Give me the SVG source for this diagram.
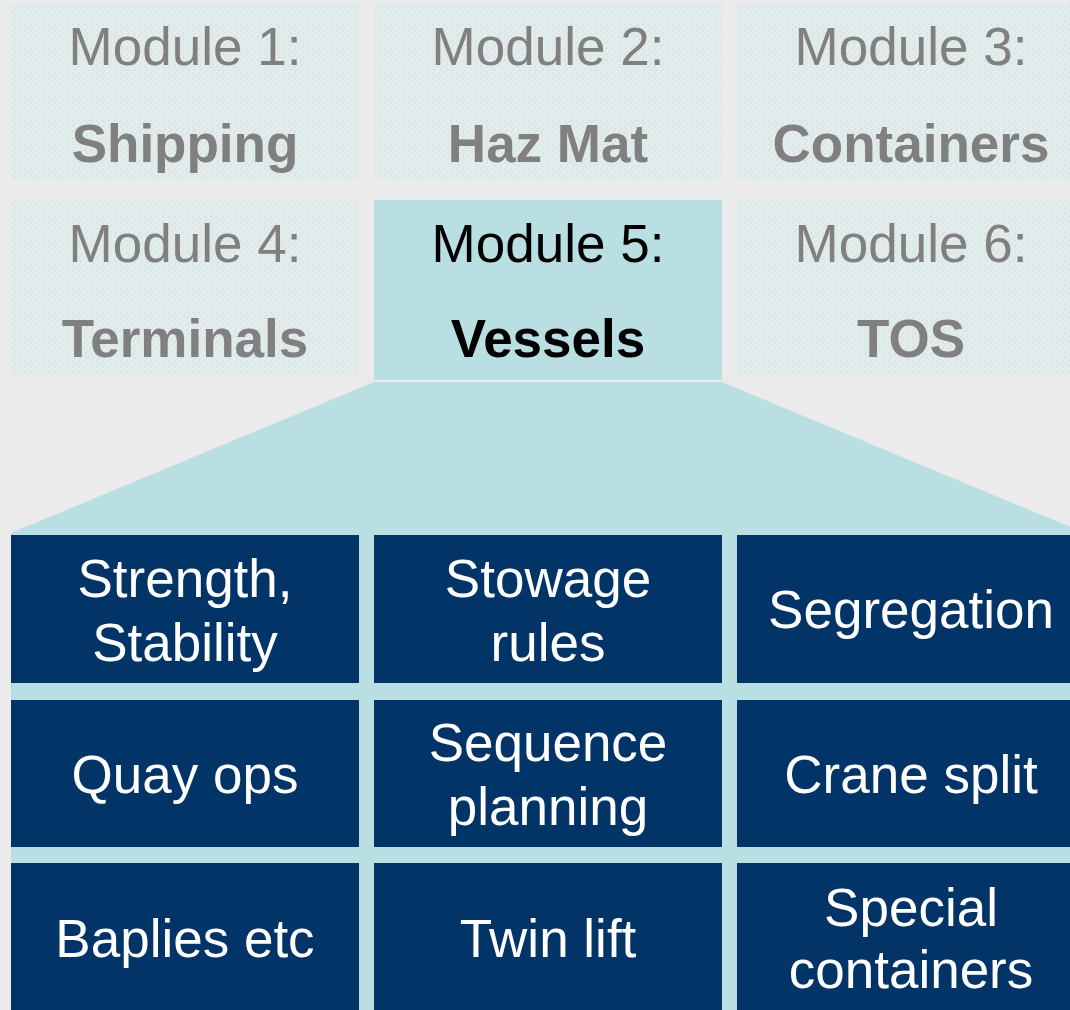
<svg xmlns="http://www.w3.org/2000/svg" width="1070" height="1010" viewBox="0 0 1070 1010">
  <defs>
    <pattern id="tex" width="6" height="6" patternUnits="userSpaceOnUse">
      <rect width="6" height="6" fill="#E4EBEB"/>
      <rect x="0" y="0" width="2" height="1" fill="#CBE3E5"/>
      <rect x="3" y="2" width="1" height="2" fill="#CFE5E7"/>
      <rect x="1" y="4" width="2" height="1" fill="#D2E6E8"/>
      <rect x="5" y="1" width="1" height="1" fill="#D6E8E9"/>
    </pattern>
  </defs>
  <style>
    .mod { fill: url(#tex); }
    .sel { fill: #B9DFE2; }
    .dark { fill: #023467; }
    .t { font-family: "Liberation Sans", Arial, sans-serif; font-size: 53px; text-anchor: middle; }
    .g { fill: #808080; }
    .b { font-weight: bold; }
    .k { fill: #000000; }
    .w { fill: #FFFFFF; }
  </style>
  <rect width="1070" height="1010" fill="#ECEBEB"/>

  <g id="zoom-connector">
    <polygon points="374,382 722,382 1085,533 11,533" fill="#B9DFE2"/>
    <rect x="11" y="533" width="1059" height="477" fill="#B9DFE2"/>
  </g>

  <g id="module1">
    <rect class="mod" x="11" y="4" width="348" height="175"/>
    <text class="t g" x="185" y="65">Module 1:</text>
    <text class="t g b" x="185" y="162">Shipping</text>
  </g>
  <g id="module2">
    <rect class="mod" x="374" y="4" width="348" height="175"/>
    <text class="t g" x="548" y="65">Module 2:</text>
    <text class="t g b" x="548" y="162">Haz Mat</text>
  </g>
  <g id="module3">
    <rect class="mod" x="737" y="4" width="348" height="175"/>
    <text class="t g" x="911" y="65">Module 3:</text>
    <text class="t g b" x="911" y="162">Containers</text>
  </g>
  <g id="module4">
    <rect class="mod" x="11" y="200" width="348" height="175"/>
    <text class="t g" x="185" y="262">Module 4:</text>
    <text class="t g b" x="185" y="357">Terminals</text>
  </g>
  <g id="module5">
    <rect class="sel" x="374" y="200" width="348" height="180"/>
    <text class="t k" x="548" y="262">Module 5:</text>
    <text class="t k b" x="548" y="357">Vessels</text>
  </g>
  <g id="module6">
    <rect class="mod" x="737" y="200" width="348" height="175"/>
    <text class="t g" x="911" y="262">Module 6:</text>
    <text class="t g b" x="911" y="357">TOS</text>
  </g>

  <g id="strength-stability">
    <rect class="dark" x="11" y="535" width="348" height="148"/>
    <text class="t w" x="185" y="597">Strength,</text>
    <text class="t w" x="185" y="661">Stability</text>
  </g>
  <g id="stowage-rules">
    <rect class="dark" x="374" y="535" width="348" height="148"/>
    <text class="t w" x="548" y="597">Stowage</text>
    <text class="t w" x="548" y="661">rules</text>
  </g>
  <g id="segregation">
    <rect class="dark" x="737" y="535" width="348" height="148"/>
    <text class="t w" x="911" y="628">Segregation</text>
  </g>

  <g id="quay-ops">
    <rect class="dark" x="11" y="700" width="348" height="147"/>
    <text class="t w" x="185" y="793">Quay ops</text>
  </g>
  <g id="sequence-planning">
    <rect class="dark" x="374" y="700" width="348" height="147"/>
    <text class="t w" x="548" y="761">Sequence</text>
    <text class="t w" x="548" y="825">planning</text>
  </g>
  <g id="crane-split">
    <rect class="dark" x="737" y="700" width="348" height="147"/>
    <text class="t w" x="911" y="793">Crane split</text>
  </g>

  <g id="baplies-etc">
    <rect class="dark" x="11" y="863" width="348" height="150"/>
    <text class="t w" x="185" y="957">Baplies etc</text>
  </g>
  <g id="twin-lift">
    <rect class="dark" x="374" y="863" width="348" height="150"/>
    <text class="t w" x="548" y="957">Twin lift</text>
  </g>
  <g id="special-containers">
    <rect class="dark" x="737" y="863" width="348" height="150"/>
    <text class="t w" x="911" y="926">Special</text>
    <text class="t w" x="911" y="988">containers</text>
  </g>
</svg>
